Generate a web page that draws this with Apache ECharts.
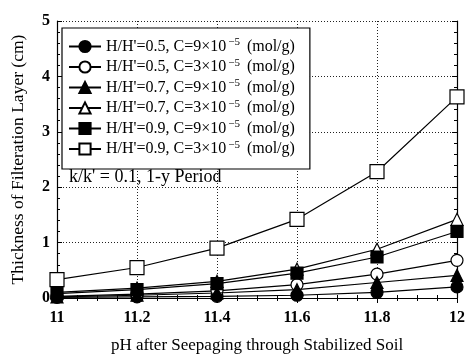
<!doctype html>
<html lang="en">
<head>
    <title>filtration layer thickness</title>
    <script src="https://cdn.jsdelivr.net/npm/echarts@6/dist/echarts.min.js"></script>
</head>
<body style="margin:0">
<div id="chart" style="width: 468px;height:359px;"></div>

<script>

var phValues = [11, 11.2, 11.4, 11.6, 11.8, 12];

// thickness (cm) per series
var h05c9 = [0.01, 0.02, 0.03, 0.05, 0.10, 0.20];
var h05c3 = [0.03, 0.07, 0.13, 0.24, 0.43, 0.68];
var h07c9 = [0.02, 0.05, 0.09, 0.15, 0.28, 0.41];
var h07c3 = [0.10, 0.18, 0.30, 0.52, 0.88, 1.42];
var h09c9 = [0.08, 0.15, 0.26, 0.45, 0.74, 1.20];
var h09c3 = [0.33, 0.55, 0.90, 1.42, 2.28, 3.63];

var seriesNames = ['0.5|9', '0.5|3', '0.7|9', '0.7|3', '0.9|9', '0.9|3'];
var seriesData = [h05c9, h05c3, h07c9, h07c3, h09c9, h09c3];
var symbols = ['circle', 'circle', 'triangle', 'triangle', 'rect', 'rect'];
var filled = [true, false, true, false, true, false];
var sizes = [12, 12, 12, 12, 12, 14];

var serif = 'Liberation Serif';

function pairs(vals) {
    return vals.map(function (v, i) { return [phValues[i], v]; });
}

var series = seriesNames.map(function (name, i) {
    return {
        name: name,
        type: 'line',
        data: pairs(seriesData[i]),
        symbol: symbols[i],
        symbolSize: sizes[i],
        showAllSymbol: true,
        lineStyle: { color: '#000', width: 1.2 },
        itemStyle: {
            color: filled[i] ? '#000' : '#fff',
            borderColor: '#000',
            borderWidth: 1.2
        },
        z: 2 + i
    };
});

var myChart = echarts.init(document.getElementById('chart'));

myChart.setOption({
    animation: false,
    backgroundColor: '#fff',
    title: {
        text: "k/k' = 0.1, 1-y Period",
        left: 64,
        top: 163,
        textStyle: { fontFamily: serif, fontSize: 18, fontWeight: 'normal', color: '#000' }
    },
    legend: {
        orient: 'vertical',
        left: 62,
        top: 28,
        padding: [9, 15, 12, 6],
        itemGap: 3,
        itemWidth: 32,
        itemHeight: 14,
        borderColor: '#000',
        borderWidth: 1.2,
        backgroundColor: '#fff',
        data: seriesNames,
        formatter: function (name) {
            var p = name.split('|');
            return "{a|H/H'=" + p[0] + ', C=' + p[1] + '×10}{s|−5}{b|(mol/g)}';
        },
        textStyle: {
            color: '#000',
            rich: {
                a: { fontFamily: serif, fontSize: 16, color: '#000' },
                s: { fontFamily: serif, fontSize: 11, color: '#000', verticalAlign: 'bottom', padding: [0, 0, 8, 2] },
                b: { fontFamily: serif, fontSize: 16, color: '#000', padding: [0, 0, 0, 7] }
            }
        }
    },
    grid: { left: 57, right: 11, top: 21, bottom: 57 },
    xAxis: [
        {
            type: 'value',
            min: 11,
            max: 12,
            interval: 0.2,
            name: 'pH after Seepaging through Stabilized Soil',
            nameLocation: 'middle',
            nameGap: 39,
            nameTextStyle: { fontFamily: serif, fontSize: 17, color: '#000' },
            axisLine: { lineStyle: { color: '#000', width: 1.2 } },
            axisTick: { inside: true, length: 5, lineStyle: { color: '#000' } },
            minorTick: { show: true, splitNumber: 4, length: 3, lineStyle: { color: '#000' } },
            axisLabel: {
                fontFamily: serif, fontSize: 16, fontWeight: 'bold', color: '#000', margin: 12,
                formatter: function (v) { return String(Number(v.toFixed(1))); }
            },
            splitLine: { show: true, lineStyle: { color: '#222', type: [1, 2] } }
        },
        {
            type: 'value',
            position: 'top',
            min: 11,
            max: 12,
            interval: 0.2,
            axisLine: { show: true, lineStyle: { color: '#000', width: 1.2 } },
            axisTick: { inside: true, length: 5, lineStyle: { color: '#000' } },
            minorTick: { show: true, splitNumber: 4, length: 3, lineStyle: { color: '#000' } },
            axisLabel: { show: false },
            splitLine: { show: false }
        }
    ],
    yAxis: [
        {
            type: 'value',
            min: 0,
            max: 5,
            interval: 1,
            name: 'Thickness of Filteration Layer (cm)',
            nameLocation: 'middle',
            nameGap: 30,
            nameTextStyle: { fontFamily: serif, fontSize: 17.5, color: '#000' },
            axisLine: { show: true, lineStyle: { color: '#000', width: 1.2 } },
            axisTick: { inside: true, length: 5, lineStyle: { color: '#000' } },
            minorTick: { show: true, splitNumber: 5, length: 3, lineStyle: { color: '#000' } },
            axisLabel: { fontFamily: serif, fontSize: 16, fontWeight: 'bold', color: '#000', margin: 7 },
            splitLine: { show: true, lineStyle: { color: '#222', type: [1, 2] } }
        },
        {
            type: 'value',
            position: 'right',
            min: 0,
            max: 5,
            interval: 1,
            axisLine: { show: true, lineStyle: { color: '#000', width: 1.2 } },
            axisTick: { inside: true, length: 5, lineStyle: { color: '#000' } },
            minorTick: { show: true, splitNumber: 5, length: 3, lineStyle: { color: '#000' } },
            axisLabel: { show: false },
            splitLine: { show: false }
        }
    ],
    series: series
});

</script>

</body>
</html>
